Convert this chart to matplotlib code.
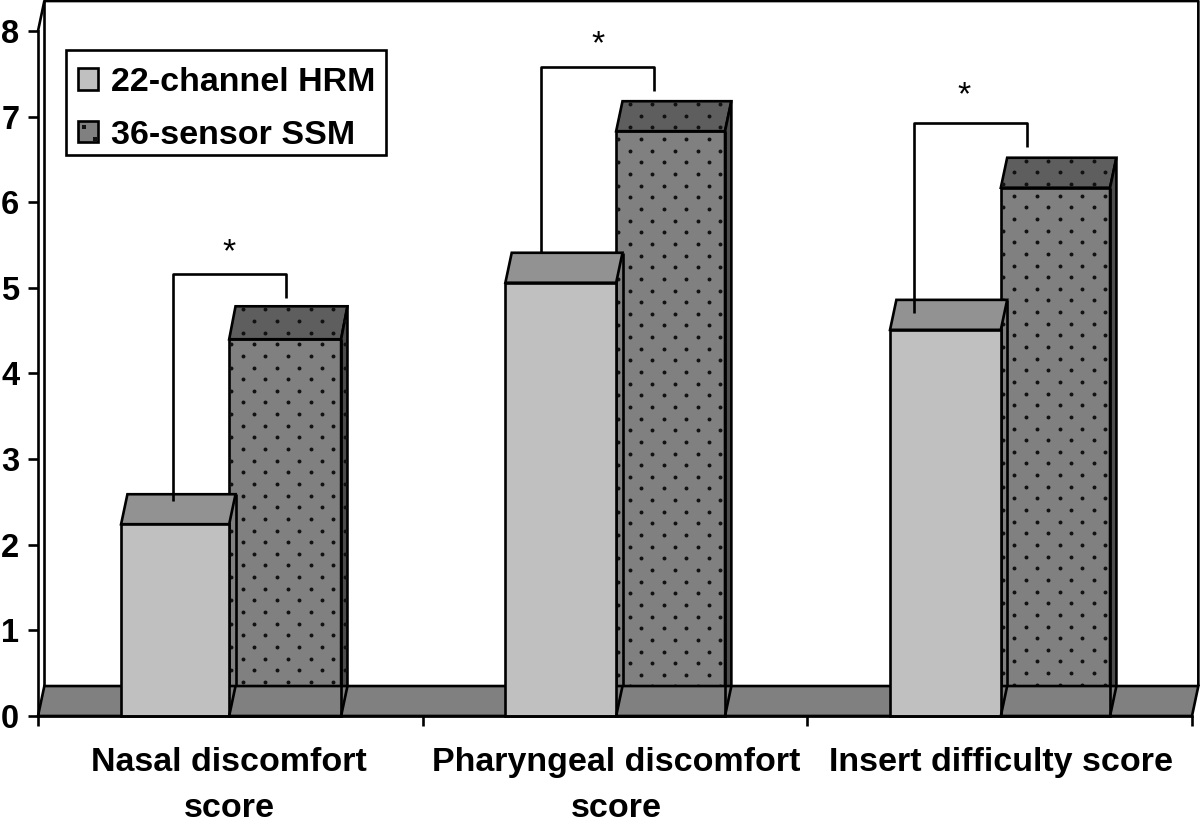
#!/usr/bin/env python3
"""Discomfort and insertion scores, pseudo-3D grouped bars (HRM vs SSM)."""

import numpy as np
import matplotlib
matplotlib.use("Agg")
import matplotlib.pyplot as plt
from matplotlib.patches import Patch, Polygon, Rectangle

plt.rcParams["font.family"] = ["Liberation Sans", "DejaVu Sans"]
plt.rcParams["font.weight"] = "bold"

categories = ["Nasal discomfort\nscore", "Pharyngeal discomfort\nscore", "Insert difficulty score"]
series_names = ["22-channel HRM", "36-sensor SSM"]
hrm_values = [2.24, 5.06, 4.51]
ssm_values = [4.40, 6.83, 6.17]
y_ticks = [0, 1, 2, 3, 4, 5, 6, 7, 8]

# significance brackets: start on the HRM bar, top, end above the SSM bar
bracket_start = [2.51, 5.42, 4.71]
bracket_top = [5.16, 7.58, 6.92]
bracket_end = [4.88, 7.30, 6.64]
star_y = [5.405, 7.835, 7.245]

# layout, in axis units
GROUP_X = [0.497, 1.503, 2.503]
HRM_W = [0.281, 0.288, 0.288]
SSM_W = [0.291, 0.283, 0.284]
SSM_DEPTH = [0.385, 0.35, 0.35]
DOT_PHASE = [0, 0, 1]
BRACKET_X = [0.351, 1.308, 2.277]
BRACKET_W = 0.294
STAR_X = [0.496, 1.456, 2.407]
DEPTH_X = 0.0165
DEPTH_Y = 0.35
DOT_DX = 0.059
DOT_DY = 0.136
LW = 1.9
FONT = 24.5

LIGHT, LIGHT_TOP = "#c0c0c0", "#929292"
DARK, DARK_TOP, DARK_SIDE = "#808080", "#5e5e5e", "#4c4c4c"
FLOOR = "#808080"

fig = plt.figure(figsize=(12, 8.24), dpi=100)
ax = fig.add_axes([38 / 1200, 1 - 716 / 824, 1154 / 1200, 685 / 824])
ax.set_xlim(0, 3)
ax.set_ylim(0, 8)
ax.patch.set_alpha(0)


def poly(pts, fc, z):
    p = Polygon(pts, closed=True, fc=fc, ec="black", lw=LW, zorder=z, clip_on=False, joinstyle="miter")
    ax.add_patch(p)
    return p


def line(xs, ys, z=5):
    ax.plot(xs, ys, color="black", lw=LW, zorder=z, clip_on=False, solid_capstyle="butt")


# back wall
line([0, DEPTH_X, 3 + DEPTH_X, 3 + DEPTH_X], [8, 8 + DEPTH_Y, 8 + DEPTH_Y, DEPTH_Y], z=1)
line([DEPTH_X, DEPTH_X], [8 + DEPTH_Y, DEPTH_Y], z=1)

# floor
poly([(0, 0), (3, 0), (3 + DEPTH_X, DEPTH_Y), (DEPTH_X, DEPTH_Y)], FLOOR, 4)

for gx, v1, v2, w1, w2, d2, phase in zip(GROUP_X, hrm_values, ssm_values, HRM_W, SSM_W, SSM_DEPTH, DOT_PHASE):
    # stippled SSM bar, sits behind the floor
    x0, x1 = gx, gx + w2
    faces = [
        poly([(x0, 0), (x1, 0), (x1, v2), (x0, v2)], DARK, 2),
        poly([(x0, v2), (x1, v2), (x1 + DEPTH_X, v2 + d2), (x0 + DEPTH_X, v2 + d2)], DARK_TOP, 2),
        poly([(x1, 0), (x1 + DEPTH_X, DEPTH_Y), (x1 + DEPTH_X, v2 + d2), (x1, v2)], DARK_SIDE, 2),
    ]
    rows = np.arange(0, v2 + d2, DOT_DY)
    dots_x, dots_y = [], []
    for i, r in enumerate(rows):
        shift = DOT_DX * 0.5 if (i + phase) % 2 else 0
        for c in np.arange(x0 + 0.035 - DOT_DX + shift, x1 + DEPTH_X, DOT_DX):
            dots_x.append(c)
            dots_y.append(v2 + d2 - 0.035 - r)
    for f in faces:
        s = ax.scatter(dots_x, dots_y, s=8, marker="o", color="#111111", lw=0, zorder=3)
        s.set_clip_path(f)

    # edges over the floor
    line([x1, x1 + DEPTH_X], [0, DEPTH_Y])
    line([x1, x1], [0, v2])

    # plain HRM bar: side face has no fill of its own
    x0, x1 = gx - w1, gx
    poly([(x0, v1), (x1, v1), (x1 + DEPTH_X, v1 + DEPTH_Y), (x0 + DEPTH_X, v1 + DEPTH_Y)], LIGHT_TOP, 6)
    poly([(x0, 0), (x1, 0), (x1, v1), (x0, v1)], LIGHT, 6)
    line([x1 + DEPTH_X, x1 + DEPTH_X], [DEPTH_Y, v1 + DEPTH_Y], z=6)
    line([x1, x1 + DEPTH_X], [0, DEPTH_Y], z=6)

# brackets
for bx, a, top, b, sx, sy in zip(BRACKET_X, bracket_start, bracket_top, bracket_end, STAR_X, star_y):
    line([bx, bx, bx + BRACKET_W, bx + BRACKET_W], [a, top, top, b], z=7)
    ax.text(sx, sy, "*", ha="center", va="center", fontsize=FONT, fontweight="normal",
            color="black", clip_on=False)

# axes
ax.spines[["top", "right"]].set_visible(False)
ax.spines["left"].set_linewidth(LW)
ax.spines["bottom"].set_linewidth(LW)
ax.spines["left"].set_zorder(8)
ax.spines["bottom"].set_zorder(8)
ax.set_yticks(y_ticks)
ax.set_xticks([0, 1, 2, 3])
ax.set_xticklabels([])
ax.set_xticks(GROUP_X, minor=True)
ax.set_xticklabels(categories, minor=True, fontsize=FONT, fontweight="bold", linespacing=1.64)
ax.tick_params(axis="x", which="major", length=7.5, width=LW)
ax.tick_params(axis="x", which="minor", length=0, pad=22)
ax.tick_params(axis="y", length=7.5, width=LW, labelsize=23.5, pad=6)

# legend: frame drawn apart so the rows can sit low in the box as in the original
ax.add_patch(Rectangle((66 / 1200, 1 - 155 / 824), 320 / 1200, 105 / 824, transform=fig.transFigure,
                       fc="white", ec="black", lw=LW, zorder=4.5, clip_on=False))
handles = [Patch(fc=LIGHT, ec="black", lw=LW), Patch(fc=DARK, ec="black", lw=LW)]
leg = ax.legend(handles, series_names, loc="upper left", bbox_to_anchor=(78 / 1200, 1 - 67 / 824),
                bbox_transform=fig.transFigure, fontsize=FONT, frameon=False, borderaxespad=0,
                handlelength=0.59, handleheight=0.59, handletextpad=0.38, labelspacing=0.64, borderpad=0)
ax.scatter([83.5 / 1200, 95 / 1200], [1 - 126.5 / 824, 1 - 138.5 / 824], s=6, marker="s", color="#111111",
           lw=0, transform=fig.transFigure, zorder=6, clip_on=False)

fig.savefig("out.png", dpi=100)
